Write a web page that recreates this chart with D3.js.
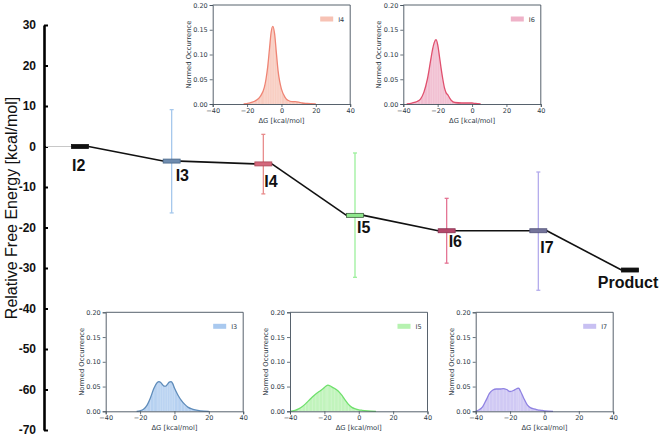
<!DOCTYPE html>
<html><head><meta charset="utf-8">
<script src="https://cdn.jsdelivr.net/npm/d3@7"></script>
<style>body{margin:0;background:#fff}svg{display:block}</style>
</head><body>
<svg id="c" width="661" height="436"></svg>
<script>
// ---------- data ----------
const stages = ["I2","I3","I4","I5","I6","I7","Product"];
const energies = [0,-3.6,-4.3,-17,-20.8,-20.8,-30.5];
const errHigh = [null,9.1,3.0,-1.6,-12.8,-6.3,null];
const errLow  = [null,-16.4,-11.7,-32.3,-28.8,-35.5,null];
const yTicks = [30,20,10,0,-10,-20,-30,-40,-50,-60,-70];
const insetXTicks = [-40,-20,0,20,40];
const insetYTicks = [0,0.05,0.10,0.15,0.20];

const kdeI3 = [[-22,0],[-20,0.001],[-18,0.004],[-16,0.012],[-14,0.027],[-12,0.046],[-10,0.058],[-9,0.06],[-8,0.058],[-7,0.054],[-6,0.051],[-5,0.051],[-4,0.055],[-3,0.059],[-2,0.06],[-1,0.056],[0,0.047],[2,0.033],[4,0.022],[6,0.014],[8,0.008],[10,0.005],[12,0.003],[15,0.001],[20,0]];
const kdeI4 = [[-22,0],[-19,0.002],[-16,0.005],[-14,0.009],[-12,0.017],[-10,0.033],[-9,0.05],[-8,0.075],[-7,0.11],[-6,0.145],[-5,0.157],[-4,0.142],[-3,0.105],[-2,0.068],[-1,0.045],[0,0.03],[2,0.014],[4,0.007],[6,0.005],[8,0.005],[10,0.004],[12,0.002],[15,0.001],[20,0]];
const kdeI5 = [[-40,0],[-37,0.002],[-35,0.005],[-33,0.009],[-31,0.015],[-29,0.022],[-27,0.029],[-25,0.035],[-23,0.04],[-21,0.045],[-19,0.051],[-18,0.053],[-16,0.05],[-14,0.046],[-12,0.041],[-10,0.033],[-8,0.023],[-6,0.014],[-4,0.008],[-2,0.005],[0,0.003],[2,0.002],[5,0.001],[10,0]];
const kdeI6 = [[-38,0],[-35,0.002],[-32,0.005],[-30,0.01],[-28,0.024],[-26,0.05],[-24,0.09],[-23,0.11],[-22,0.124],[-21,0.13],[-20,0.12],[-19,0.097],[-18,0.072],[-17,0.05],[-16,0.032],[-15,0.022],[-14,0.018],[-13,0.012],[-12,0.007],[-10,0.003],[-6,0.002],[0,0.002],[2,0.001],[5,0]];
const kdeI7 = [[-40,0],[-38,0.003],[-36,0.009],[-34,0.022],[-32,0.036],[-30,0.043],[-28,0.045],[-26,0.045],[-24,0.046],[-22,0.044],[-20,0.04],[-18,0.042],[-16,0.046],[-15,0.047],[-14,0.041],[-12,0.026],[-10,0.013],[-8,0.007],[-6,0.005],[-4,0.003],[-2,0.002],[0,0.001],[5,0]];

// ---------- layout / style ----------
const stageColors = ["#111","#6f8caf","#d4687c","#8fe88c","#b4486a","#74749a","#111"];
const stageStroke = ["#111","#4a6888","#a84858","#3c5c3c","#8a3050","#505078","#111"];
const errColors   = [null,"#a6c8ec","#e88c8c","#9cf09c","#e47494","#b4acec",null];
const labelDx = [-8,4,1,2,2,2,-2];
const labelDy = [24,20,23,18,16,22,18];

const svg = d3.select("#c");
const x = d3.scalePoint().domain(stages).range([80,630]);
const y = d3.scaleLinear().domain([-70,30]).range([430,25]);

// y axis
const ax = svg.append("g").attr("transform","translate(44,0)")
  .call(d3.axisLeft(y).tickValues(yTicks).tickSizeInner(-4).tickSizeOuter(0).tickPadding(8).tickFormat(d=>String(d)));
ax.select(".domain").attr("stroke","#000").attr("stroke-width",2.6);
ax.selectAll(".tick line").attr("stroke","#000").attr("stroke-width",2);
ax.selectAll(".tick text").attr("font-family","Liberation Sans, Arial, sans-serif").attr("font-weight","bold").attr("font-size",12).attr("fill","#111");

svg.append("text").attr("transform","translate(17,208) rotate(-90)").attr("text-anchor","middle")
  .attr("font-family","Liberation Sans, Arial, sans-serif").attr("font-size",16).attr("fill","#111")
  .text("Relative Free Energy [kcal/mol]");

// grey guide from axis to I2
svg.append("line").attr("x1",46).attr("x2",x(stages[0])-8).attr("y1",y(energies[0])).attr("y2",y(energies[0]))
  .attr("stroke","#c8c8c8").attr("stroke-width",1);

// error bars
stages.forEach((s,i)=>{
  if(errHigh[i]===null) return;
  const g = svg.append("g").attr("stroke",errColors[i]).attr("stroke-width",1.3);
  g.append("line").attr("x1",x(s)).attr("x2",x(s)).attr("y1",y(errHigh[i])).attr("y2",y(errLow[i]));
  g.append("line").attr("x1",x(s)-2).attr("x2",x(s)+2).attr("y1",y(errHigh[i])).attr("y2",y(errHigh[i]));
  g.append("line").attr("x1",x(s)-2).attr("x2",x(s)+2).attr("y1",y(errLow[i])).attr("y2",y(errLow[i]));
});

// connecting line
const half = 8.5;
const pts = [];
stages.forEach((s,i)=>{ pts.push([x(s)-half,y(energies[i])]); pts.push([x(s)+half,y(energies[i])]); });
const conn = [];
for(let i=0;i<stages.length-1;i++){ conn.push([pts[2*i+1],pts[2*i+2]]); }
conn.forEach(c=>svg.append("line").attr("x1",c[0][0]).attr("y1",c[0][1]).attr("x2",c[1][0]).attr("y2",c[1][1])
  .attr("stroke","#111").attr("stroke-width",1.6));
stages.forEach((s,i)=>{
  svg.append("line").attr("x1",x(s)-half).attr("x2",x(s)+half).attr("y1",y(energies[i])).attr("y2",y(energies[i]))
    .attr("stroke","#111").attr("stroke-width",1.2);
});

// level bars
stages.forEach((s,i)=>{
  svg.append("rect").attr("x",x(s)-half).attr("y",y(energies[i])-2).attr("width",2*half).attr("height",4)
    .attr("fill",stageColors[i]).attr("stroke",stageStroke[i]).attr("stroke-width",0.8);
});

// stage labels
stages.forEach((s,i)=>{
  const t = svg.append("text").attr("font-family","Liberation Sans, Arial, sans-serif").attr("font-weight","bold")
    .attr("font-size",16).attr("fill","#111").attr("y",y(energies[i])+labelDy[i]).text(s);
  if(s==="Product") t.attr("x",x(s)+labelDx[i]).attr("text-anchor","middle");
  else t.attr("x",x(s)+labelDx[i]);
});

// ---------- insets ----------
function inset(left, top, data, name, line, fill){
  const w = 137.5, h = 99;
  const g = svg.append("g").attr("transform",`translate(${left},${top})`);
  const ix = d3.scaleLinear().domain([-40,40]).range([0,w]);
  const iy = d3.scaleLinear().domain([0,0.2]).range([h,0]);
  g.append("path").datum(data).attr("d",d3.area().x(d=>ix(d[0])).y0(h).y1(d=>iy(d[1])).curve(d3.curveMonotoneX))
    .attr("fill",fill).attr("opacity",0.85);
  // histogram-like stripes
  const stripes = g.append("g").attr("stroke","#fff").attr("stroke-width",0.4).attr("opacity",0.6);
  data.forEach(d=>{ if(d[1]>0) stripes.append("line").attr("x1",ix(d[0])).attr("x2",ix(d[0])).attr("y1",h).attr("y2",iy(d[1])); });
  g.append("path").datum(data).attr("d",d3.line().x(d=>ix(d[0])).y(d=>iy(d[1])).curve(d3.curveMonotoneX))
    .attr("fill","none").attr("stroke",line).attr("stroke-width",1.3);
  const axc = "#44505c";
  const xa = g.append("g").attr("transform",`translate(0,${h})`)
    .call(d3.axisBottom(ix).tickValues(insetXTicks).tickSize(3).tickPadding(1.5).tickFormat(d=>d<0?"\u2212"+Math.abs(d):String(d)));
  const ya = g.append("g")
    .call(d3.axisLeft(iy).tickValues(insetYTicks).tickSize(3).tickPadding(2).tickFormat(d3.format(".2f")));
  [xa,ya].forEach(a=>{
    a.select(".domain").attr("stroke",axc).attr("stroke-width",0.9);
    a.selectAll(".tick line").attr("stroke",axc).attr("stroke-width",0.8);
    a.selectAll(".tick text").attr("font-family","DejaVu Sans, sans-serif").attr("font-size",6.5).attr("fill","#2e3a46");
  });
  g.append("line").attr("x1",0).attr("x2",w).attr("y1",0).attr("y2",0).attr("stroke",axc).attr("stroke-width",0.9);
  g.append("line").attr("x1",w).attr("x2",w).attr("y1",0).attr("y2",h).attr("stroke",axc).attr("stroke-width",0.9);
  g.append("text").attr("x",w/2).attr("y",h+19).attr("text-anchor","middle")
    .attr("font-family","DejaVu Sans, sans-serif").attr("font-size",6.8).attr("fill","#2e3a46").text("\u0394G [kcal/mol]");
  g.append("text").attr("transform",`translate(-22,${h/2}) rotate(-90)`).attr("text-anchor","middle")
    .attr("font-family","DejaVu Sans, sans-serif").attr("font-size",6.8).attr("fill","#2e3a46").text("Normed Occurrence");
  g.append("rect").attr("x",w-30).attr("y",11.5).attr("width",13).attr("height",5).attr("fill",fill);
  g.append("text").attr("x",w-12).attr("y",16.5).attr("font-family","DejaVu Sans, sans-serif").attr("font-size",6.5)
    .attr("fill","#2e3a46").text(name);
}
inset(212.7,5,kdeI4,"I4","#ef8474","#f7c2b4");
inset(403.3,5,kdeI6,"I6","#e0506e","#efb2c8");
inset(105.7,312.3,kdeI3,"I3","#5f8cba","#a9c9ef");
inset(290,312.3,kdeI5,"I5","#6fe06c","#b6f2b0");
inset(475.7,312.3,kdeI7,"I7","#8f82e2","#c8c0f2");
</script>
</body></html>
